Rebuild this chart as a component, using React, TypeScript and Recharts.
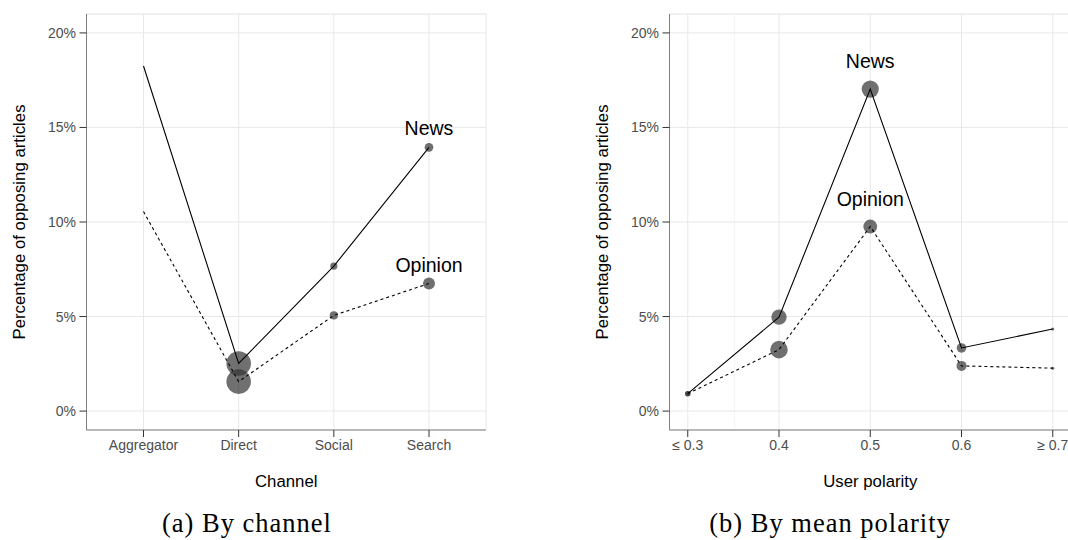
import {
  ComposedChart,
  Line,
  Scatter,
  XAxis,
  YAxis,
  ZAxis,
  CartesianGrid,
  ReferenceDot,
} from 'recharts';

// (a) by channel
const channels = ['Aggregator', 'Direct', 'Social', 'Search'];
const channelNews = [18.25, 2.52, 7.67, 13.95];
const channelOpinion = [10.55, 1.56, 5.06, 6.75];
// relative number of users behind each point (drives marker area)
const channelNewsN = [0, 151, 13, 19];
const channelOpinionN = [0, 151, 17, 36];

// (b) by mean polarity
const polarity = [0.3, 0.4, 0.5, 0.6, 0.7];
const polarityLabels = ['≤ 0.3', '0.4', '0.5', '0.6', '≥ 0.7'];
const polarityNews = [0.92, 4.97, 17.03, 3.34, 4.34];
const polarityOpinion = [0.92, 3.25, 9.76, 2.39, 2.27];
const polarityNewsN = [7, 59, 74, 23, 2.3];
const polarityOpinionN = [7, 77, 48, 25, 2.3];

const pctTicks = [0, 5, 10, 15, 20];
const pctMinor = [2.5, 7.5, 12.5, 17.5];
const polarityMinor = [0.35, 0.45, 0.55, 0.65];

const channelData = channels.map((channel, i) => ({
  channel,
  news: channelNews[i],
  opinion: channelOpinion[i],
  newsN: channelNewsN[i],
  opinionN: channelOpinionN[i],
}));

const polarityData = polarity.map((p, i) => ({
  p,
  news: polarityNews[i],
  opinion: polarityOpinion[i],
  newsN: polarityNewsN[i],
  opinionN: polarityOpinionN[i],
}));

const SANS = '"Liberation Sans", Arial, sans-serif';
const BORDER = '#7f7f7f';
const TICK = '#333333';
const POINT = '#333333';
const Y_DOMAIN: [number, number] = [-1, 21];
const SIZE_DOMAIN: [number, number] = [0, 151];
const SIZE_RANGE: [number, number] = [0, 474];

const tickStyle = { fontSize: 14, fill: '#4d4d4d', fontFamily: SANS };
const titleStyle = { fontSize: 16.8, fill: '#000', fontFamily: SANS };
const noteLabel = (value: string) => ({
  value,
  position: 'center' as const,
  fontSize: 19.5,
  fill: '#000',
  fontFamily: SANS,
});

function pctAxis(offset: number) {
  return (
    <YAxis
      type="number"
      domain={Y_DOMAIN}
      ticks={pctTicks}
      allowDataOverflow
      width={86.5}
      tickFormatter={(v) => `${v}%`}
      tick={tickStyle}
      tickSize={7}
      tickMargin={3.5}
      tickLine={{ stroke: TICK }}
      axisLine={{ stroke: BORDER }}
      label={{
        value: 'Percentage of opposing articles',
        angle: -90,
        position: 'insideLeft',
        offset,
        style: { ...titleStyle, textAnchor: 'middle' },
      }}
    />
  );
}

// points first, lines on top (as in the original ggplot)
function series() {
  return [
    <ZAxis key="zn" zAxisId="news" dataKey="newsN" domain={SIZE_DOMAIN} range={SIZE_RANGE} />,
    <ZAxis key="zo" zAxisId="opinion" dataKey="opinionN" domain={SIZE_DOMAIN} range={SIZE_RANGE} />,
    <Scatter key="sn" dataKey="news" zAxisId="news" fill={POINT} fillOpacity={0.7} isAnimationActive={false} />,
    <Scatter key="so" dataKey="opinion" zAxisId="opinion" fill={POINT} fillOpacity={0.7} isAnimationActive={false} />,
    <Line key="ln" zIndex={700} dataKey="news" type="linear" stroke="#000" strokeWidth={1.1} dot={false} activeDot={false} isAnimationActive={false} />,
    <Line key="lo" zIndex={700} dataKey="opinion" type="linear" stroke="#000" strokeWidth={1.1} strokeDasharray="3 3" dot={false} activeDot={false} isAnimationActive={false} />,
  ];
}

function ChannelChart() {
  return (
    <ComposedChart
      width={494}
      height={500}
      data={channelData}
      margin={{ top: 14, right: 8, bottom: 0, left: 0 }}
    >
      <YAxis yAxisId="minor" hide type="number" domain={Y_DOMAIN} ticks={pctMinor} />
      <CartesianGrid yAxisId="minor" vertical={false} stroke="#f4f4f4" />
      <CartesianGrid stroke="#e8e8e8" />
      <XAxis
        dataKey="channel"
        type="category"
        padding={{ left: 57, right: 57 }}
        height={70}
        tick={tickStyle}
        tickSize={7}
        tickMargin={3.5}
        tickLine={{ stroke: TICK }}
        axisLine={{ stroke: BORDER }}
        label={{ value: 'Channel', position: 'insideBottom', offset: 13, style: titleStyle }}
      />
      <XAxis xAxisId="top" orientation="top" dataKey="channel" height={0} tick={false} tickLine={false} axisLine={{ stroke: BORDER }} />
      {pctAxis(19)}
      <YAxis yAxisId="right" orientation="right" type="number" domain={Y_DOMAIN} width={0} tick={false} tickLine={false} axisLine={{ stroke: BORDER }} />
      {series()}
      <ReferenceDot x="Search" y={14.95} r={0} fill="none" stroke="none" label={noteLabel('News')} />
      <ReferenceDot x="Search" y={7.7} r={0} fill="none" stroke="none" label={noteLabel('Opinion')} />
    </ComposedChart>
  );
}

function PolarityChart() {
  return (
    <ComposedChart
      width={500}
      height={500}
      data={polarityData}
      margin={{ top: 14, right: 12, bottom: 0, left: 0 }}
    >
      <XAxis xAxisId="minor" hide type="number" domain={[0.28, 0.72]} ticks={polarityMinor} allowDataOverflow />
      <YAxis yAxisId="minor" hide type="number" domain={Y_DOMAIN} ticks={pctMinor} />
      <CartesianGrid xAxisId="minor" yAxisId="minor" stroke="#f4f4f4" />
      <CartesianGrid stroke="#e8e8e8" />
      <XAxis
        dataKey="p"
        type="number"
        domain={[0.28, 0.72]}
        ticks={polarity}
        allowDataOverflow
        height={70}
        tickFormatter={(v) => polarityLabels[polarity.indexOf(v)] ?? ''}
        tick={tickStyle}
        tickSize={7}
        tickMargin={3.5}
        tickLine={{ stroke: TICK }}
        axisLine={{ stroke: BORDER }}
        label={{ value: 'User polarity', position: 'insideBottom', offset: 13, style: titleStyle }}
      />
      <XAxis xAxisId="top" orientation="top" type="number" domain={[0.28, 0.72]} height={0} tick={false} tickLine={false} axisLine={{ stroke: BORDER }} />
      {pctAxis(19.3)}
      {series()}
      <ReferenceDot x={0.5} y={18.5} r={0} fill="none" stroke="none" label={noteLabel('News')} />
      <ReferenceDot x={0.5} y={11.2} r={0} fill="none" stroke="none" label={noteLabel('Opinion')} />
    </ComposedChart>
  );
}

export default function App() {
  const caption = {
    fontFamily: '"Liberation Serif", "Times New Roman", serif',
    fontSize: 26.5,
    letterSpacing: 1,
    fill: '#000',
  };
  return (
    <div
      style={{
        position: 'absolute',
        left: 0,
        top: 0,
        width: 1068,
        height: 540,
        overflow: 'hidden',
        background: '#fff',
      }}
    >
      <div style={{ position: 'absolute', left: 0, top: 0 }}>
        <ChannelChart />
      </div>
      <div style={{ position: 'absolute', left: 583, top: 0 }}>
        <PolarityChart />
      </div>
      <svg width={1068} height={540} style={{ position: 'absolute', left: 0, top: 0, pointerEvents: 'none' }}>
        <text x={247} y={531.5} textAnchor="middle" style={caption}>(a) By channel</text>
        <text x={830} y={531.5} textAnchor="middle" style={caption}>(b) By mean polarity</text>
      </svg>
    </div>
  );
}
